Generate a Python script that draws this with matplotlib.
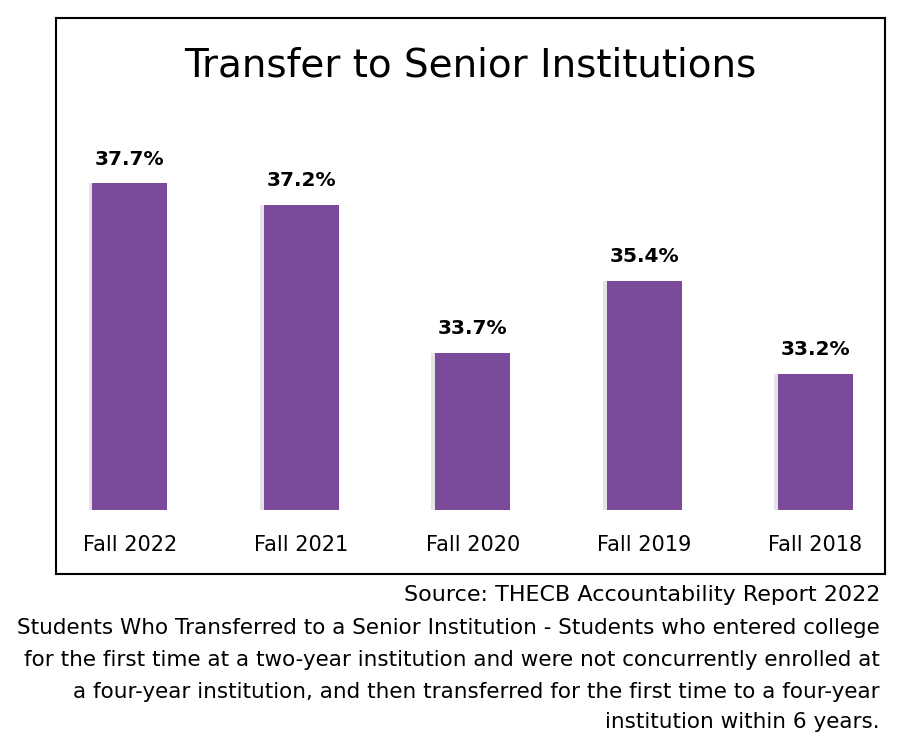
import matplotlib.pyplot as plt
import numpy as np

# data (order as shown in the picture, left to right)
terms = ['Fall 2022', 'Fall 2021', 'Fall 2020', 'Fall 2019', 'Fall 2018']
rates = [37.7, 37.2, 33.7, 35.4, 33.2]
base = 30.0

title = 'Transfer to Senior Institutions'
source = 'Source: THECB Accountability Report 2022'
notes = [
    'Students Who Transferred to a Senior Institution - Students who entered college',
    'for the first time at a two-year institution and were not concurrently enrolled at',
    'a four-year institution, and then transferred for the first time to a four-year',
    'institution within 6 years.',
]

purple = '#7c4a9a'

fig = plt.figure(figsize=(9, 7.5), dpi=100)
ax = fig.add_axes([56 / 900, 1 - 574 / 750, 829 / 900, 556 / 750])

x = np.arange(len(terms))
heights = [r - base for r in rates]

# soft shadow behind bars
ax.bar(x - 0.02, heights, width=0.44, bottom=base, color='#c4c4c4', alpha=0.45, zorder=1)
ax.bar(x, heights, width=0.437, bottom=base, color=purple, zorder=2)

for xi, r in zip(x, rates):
    ax.text(xi, r + 0.35, f'{r}%', ha='center', va='bottom',
            fontsize=14.5, fontweight='bold', color='black')

for xi, t in zip(x, terms):
    ax.text(xi, base - 0.83, t, ha='center', va='center', fontsize=15)

ax.set_xlim(-0.43, 4.405)
ax.set_ylim(28.49, 41.6)
ax.set_xticks([])
ax.set_yticks([])
for s in ax.spines.values():
    s.set_linewidth(1.5)
    s.set_color('black')

ax.text(0.5, 0.915, title, transform=ax.transAxes, ha='center', va='center',
        fontsize=28)

# source and notes under the box
fig.text(880 / 900, 1 - 595 / 750, source, ha='right', va='center', fontsize=16)
ys = [628, 660, 692, 722]
for y, line in zip(ys, notes):
    fig.text(880 / 900, 1 - y / 750, line, ha='right', va='center', fontsize=15.5)

fig.savefig('out.png', dpi=100)
